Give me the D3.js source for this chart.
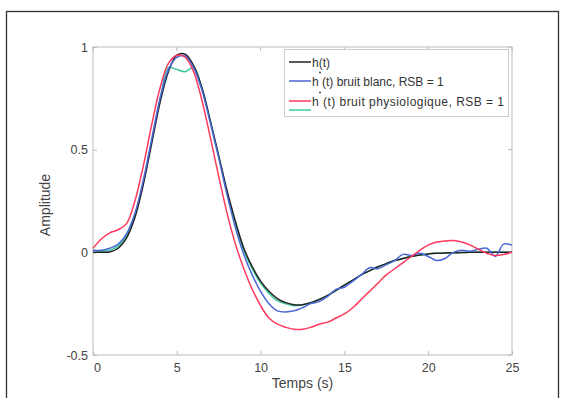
<!DOCTYPE html>
<html><head><meta charset="utf-8">
<script src="https://cdn.jsdelivr.net/npm/d3@7"></script>
<style>body{margin:0;background:#fff}svg{display:block}text{font-family:"Liberation Sans",Arial,sans-serif}</style>
</head><body><svg id="c" width="565" height="398"></svg>
<script>
const tGrid = d3.range(0, 25.01, 0.5);
const hTrue = [0,0,0.002,0.02,0.07,0.17,0.33,0.53,0.73,0.88,0.96,0.965,0.91,0.8,0.64,0.47,0.3,0.15,0.02,-0.07,-0.14,-0.19,-0.225,-0.245,-0.255,-0.255,-0.245,-0.23,-0.21,-0.185,-0.16,-0.135,-0.11,-0.09,-0.07,-0.055,-0.04,-0.03,-0.02,-0.013,-0.008,-0.005,-0.003,-0.002,-0.001,0,0,0,0,0,0];
const hWhite = [0.01,0.01,0.02,0.04,0.09,0.19,0.35,0.55,0.75,0.89,0.95,0.955,0.9,0.79,0.63,0.46,0.28,0.12,-0.01,-0.11,-0.19,-0.25,-0.285,-0.29,-0.285,-0.27,-0.25,-0.24,-0.215,-0.18,-0.17,-0.14,-0.11,-0.075,-0.08,-0.06,-0.04,-0.01,-0.015,-0.005,-0.02,-0.04,-0.03,0.0,0.01,0.005,0.015,0.02,-0.02,0.04,0.035];
const hPhysio = [0.02,0.065,0.095,0.11,0.14,0.25,0.42,0.62,0.8,0.92,0.96,0.95,0.88,0.74,0.56,0.37,0.19,0.04,-0.08,-0.18,-0.26,-0.32,-0.35,-0.365,-0.375,-0.375,-0.365,-0.35,-0.34,-0.32,-0.3,-0.27,-0.23,-0.19,-0.15,-0.11,-0.08,-0.05,-0.02,0.01,0.035,0.05,0.055,0.058,0.05,0.035,0.015,-0.005,-0.015,-0.01,0];
const hOther = [0.01,0.005,0.01,0.03,0.08,0.18,0.34,0.54,0.74,0.9,0.89,0.88,0.9,0.8,0.64,0.47,0.29,0.14,0.01,-0.08,-0.15,-0.2,-0.235,-0.25,-0.26,-0.255,-0.245,-0.23,-0.21,-0.185,-0.16,-0.135,-0.11,-0.09,-0.07,-0.055,-0.04,-0.03,-0.02,-0.013,-0.008,-0.005,-0.003,-0.002,-0.001,0,0,0,0,0,0];
const xTicks = [0,5,10,15,20,25];
const yTicks = [-0.5,0,0.5,1];
const yTickLabels = ["-0.5","0","0.5","1"];
const legendLabels = ["h(t)","h (t) bruit blanc, RSB = 1","h (t) bruit physiologique, RSB = 1"];

const svg = d3.select("#c");
svg.append("rect").attr("x",6.5).attr("y",11.5).attr("width",552).attr("height",400)
  .attr("fill","none").attr("stroke","#333").attr("stroke-width",1.3);

const L=93,R=512,T=47,B=355;
const x = d3.scaleLinear().domain([0,25]).range([L,R]);
const y = d3.scaleLinear().domain([-0.5,1]).range([B,T]);

svg.append("rect").attr("x",L).attr("y",T).attr("width",R-L).attr("height",B-T)
  .attr("fill","none").attr("stroke","#bbb").attr("stroke-width",1);

const gx = svg.append("g").attr("transform",`translate(0,${B})`)
  .call(d3.axisBottom(x).tickValues(xTicks).tickSizeInner(-4).tickSizeOuter(0).tickPadding(8));
const gy = svg.append("g").attr("transform",`translate(${L},0)`)
  .call(d3.axisLeft(y).tickValues(yTicks).tickFormat((d,i)=>yTickLabels[i]).tickSizeInner(-4).tickSizeOuter(0).tickPadding(5));
[gx,gy].forEach(g=>{
  g.select(".domain").remove();
  g.selectAll("line").attr("stroke","#bbb");
  g.selectAll("text").attr("fill","#444").attr("font-size",12.5);
});
gx.selectAll(".tick text").filter(d=>d===0).attr("dx",4);
svg.append("g").selectAll("line").data(xTicks).join("line")
  .attr("x1",d=>x(d)).attr("x2",d=>x(d)).attr("y1",T).attr("y2",T+4).attr("stroke","#bbb");
svg.append("g").selectAll("line").data(yTicks).join("line")
  .attr("x1",R).attr("x2",R-4).attr("y1",d=>y(d)).attr("y2",d=>y(d)).attr("stroke","#bbb");

svg.append("text").attr("x",(L+R)/2).attr("y",388).attr("text-anchor","middle")
  .attr("font-size",14).attr("fill","#444").text("Temps (s)");
svg.append("text").attr("transform",`translate(50,${(T+B)/2+4}) rotate(-90)`).attr("text-anchor","middle")
  .attr("font-size",14).attr("fill","#444").text("Amplitude");

const line = d3.line().x((d,i)=>x(tGrid[i])).y(d=>y(d)).curve(d3.curveCatmullRom);
const series = [
  {v:hOther,c:"#3cc9a2"},
  {v:hTrue,c:"#222"},
  {v:hWhite,c:"#4a68d6"},
  {v:hPhysio,c:"#ff3a5e"}
];
series.forEach(s=>{
  svg.append("path").attr("d",line(s.v)).attr("fill","none").attr("stroke",s.c).attr("stroke-width",1.5);
});

// legend
const lg = svg.append("g");
lg.append("rect").attr("x",284.5).attr("y",49.5).attr("width",224).attr("height",67)
  .attr("fill","#fff").attr("stroke","#ccc");
const ly=[62,81,101,110];
const lc=["#222","#4a68d6","#ff3a5e","#3cc9a2"];
ly.forEach((yy,i)=>{
  lg.append("line").attr("x1",289).attr("x2",311).attr("y1",yy).attr("y2",yy).attr("stroke",lc[i]).attr("stroke-width",1.5);
});
[0,1,2].forEach(i=>{
  lg.append("text").attr("x",312).attr("y",ly[i]+4.5).attr("font-size",12).attr("fill","#333")
    .attr("textLength", i===0?null:(i===1?null:192)).text(legendLabels[i]);
  if(i>0) lg.append("circle").attr("cx",320).attr("cy",ly[i]-8.5).attr("r",0.9).attr("fill","#333");
});
</script></body></html>
